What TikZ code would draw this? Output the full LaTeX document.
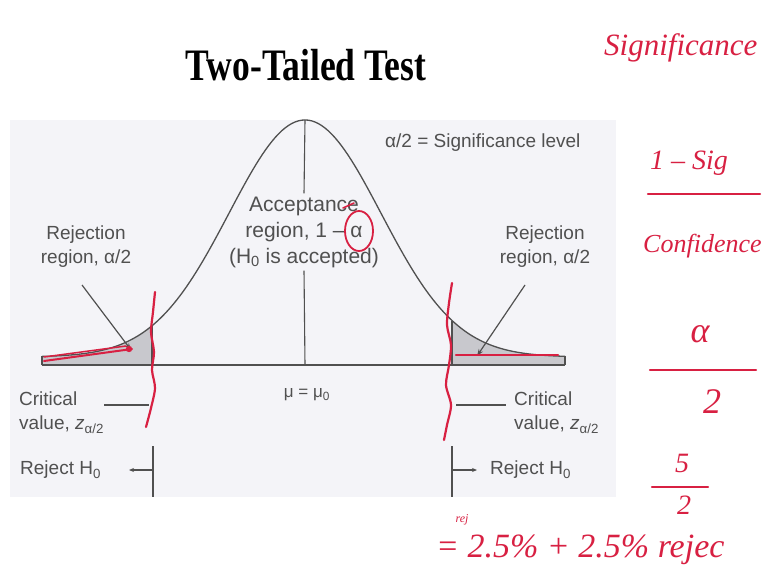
\documentclass[tikz,border=0pt]{standalone}
\usepackage{fontspec}
\setmainfont{Liberation Sans}
\newfontfamily\titlefont{Liberation Serif}
\usetikzlibrary{arrows.meta}
\definecolor{panel}{RGB}{244,244,248}
\definecolor{ink}{RGB}{80,80,80}
\definecolor{pen}{RGB}{216,32,66}
\definecolor{tailfill}{RGB}{200,200,205}
\begin{document}
\begin{tikzpicture}[x=1pt,y=-1pt,
  declare function={g(\x)=357-237*exp(-((\x-305)/76)^2/2);},
  lbl/.style={text=ink, font=\fontsize{19}{24}\selectfont, align=center, inner sep=0pt},
  lblL/.style={lbl, align=left},
  curve/.style={ink, line width=1.3},
  thin/.style={ink, line width=1.1},
  pointer/.style={ink, line width=1.2, -{Stealth[length=7pt,width=5pt]}},
  smallarrow/.style={ink, line width=1.1, -{Stealth[length=5pt,width=4pt]}},
  redpen/.style={pen, line width=2.2, line cap=round, line join=round},
  hand/.style={text=pen, font=\titlefont\itshape\fontsize{28}{30}\selectfont, inner sep=0pt}]
\useasboundingbox (0,0) rectangle (765,578);
\fill[white] (0,0) rectangle (765,578);
\fill[panel] (10,120) rectangle (616,497);

% title
\node[font=\titlefont\bfseries\fontsize{45}{45}\selectfont, xscale=0.79, anchor=base, inner sep=0pt] (title) at (306,80) {Two-Tailed Test};

% tail fills
\begin{scope}
  \clip (0,100) rectangle (152,400);
  \fill[tailfill] (42,365) -- plot[domain=42:305,samples=80] (\x,{g(\x)}) -- (305,365) -- cycle;
\end{scope}
\begin{scope}
  \clip (452,100) rectangle (620,400);
  \fill[tailfill] (305,365) -- plot[domain=305:565,samples=80] (\x,{g(\x)}) -- (565,365) -- cycle;
\end{scope}

% curve and axis
\draw[curve] plot[domain=42:565, samples=160] (\x,{g(\x)});
\coordinate (lend) at (42,365);
\coordinate (rend) at (565,365);
\draw[thin] (lend) -- (rend);
\draw[thin] (lend) -- (42,{g(42)});
\draw[thin] (rend) -- (565,{g(565)});
\draw[thin] (152,{g(152)}) -- (152,365);
\draw[thin] (452,{g(452)}) -- (452,365);

% labels
\node[lbl, anchor=west] (sig) at (385,143) {α/2 = Significance level};
\node[lbl, font=\fontsize{21}{26}\selectfont, inner sep=3pt] (acc) at (304,232) {Acceptance\\region, 1 – α\\(H\textsubscript{0} is accepted)};
\coordinate (peak) at (305,120);
\node[lbl, font=\fontsize{17}{20}\selectfont] (mu) at (307,395) {μ = μ\textsubscript{0}};
\coordinate (axc) at (305,365);
\draw[thin] (peak) -- (acc.north);
\draw[thin] (acc.south) -- (axc);

\node[lbl] (lrej) at (86,247) {Rejection\\region, α/2};
\node[lbl] (rrej) at (545,247) {Rejection\\region, α/2};
\coordinate (lrejs) at (82,285);
\coordinate (ltip) at (131,350);
\coordinate (rrejs) at (525,285);
\coordinate (rtip) at (477,356);
\draw[pointer] (lrejs) -- (ltip);
\draw[pointer] (rrejs) -- (rtip);

\node[lblL, anchor=north west] (lcrit) at (19,392) {Critical\\value, \textit{z}\textsubscript{α/2}};
\node[lblL, anchor=north west] (rcrit) at (514,392) {Critical\\value, \textit{z}\textsubscript{α/2}};
\coordinate (lc1) at (104,405);
\coordinate (lc2) at (149,405);
\coordinate (rc1) at (456,405);
\coordinate (rc2) at (506,405);
\draw[thin] (lc1) -- (lc2);
\draw[thin] (rc1) -- (rc2);

\node[lbl, anchor=west] (lrh) at (20,470) {Reject H\textsubscript{0}};
\node[lbl, anchor=west] (rrh) at (490,470) {Reject H\textsubscript{0}};
\coordinate (lt1) at (153,446);
\coordinate (lt2) at (153,497);
\coordinate (rt1) at (452,446);
\coordinate (rt2) at (452,497);
\draw[thin] (lt1) -- (lt2);
\draw[thin] (rt1) -- (rt2);
\draw[smallarrow] (153,470) -- (129,470);
\draw[smallarrow] (452,470) -- (477,470);

% red annotations on the diagram
\draw[redpen, line width=1.8] (359,231) ellipse (14 and 20);
\draw[redpen, line width=1.6] (343,208) -- (354,203);
\draw[redpen] plot[smooth] coordinates {(155,292) (153,312) (151,332) (154,352) (152,370) (155,388) (151,408) (146,427)};
\draw[redpen] plot[smooth] coordinates {(452,283) (449,303) (447,325) (451,345) (449,365) (446,385) (451,405) (447,425) (444,440)};
\draw[redpen, line width=2] (44,361) -- (132,349);
\draw[redpen, line width=1.5] (44,357) -- (126,346);
\fill[pen] (129,349) circle (3.2);
\draw[redpen, line width=2.4] (456,355) -- (558,355);

% handwritten notes
\node[hand, anchor=west, font=\titlefont\itshape\fontsize{31}{31}\selectfont] (n1) at (604,48) {Significance};
\node[hand, anchor=west] (n2) at (650,163) {1 – Sig};
\coordinate (l1a) at (648,194);
\coordinate (l1b) at (760,194);
\draw[redpen] (l1a) -- (l1b);
\node[hand, anchor=west, font=\titlefont\itshape\fontsize{26}{26}\selectfont] (n3) at (643,246) {Confidence};
\node[hand, font=\titlefont\itshape\fontsize{36}{36}\selectfont] (n4) at (700,334) {α};
\coordinate (l2a) at (650,370);
\coordinate (l2b) at (756,370);
\draw[redpen] (l2a) -- (l2b);
\node[hand, font=\titlefont\itshape\fontsize{36}{36}\selectfont] (n5) at (712,402) {2};
\node[hand] (n6) at (682,463) {5};
\coordinate (l3a) at (652,487);
\coordinate (l3b) at (708,487);
\draw[redpen] (l3a) -- (l3b);
\node[hand] (n7) at (684,505) {2};
\node[hand, font=\titlefont\itshape\fontsize{12}{12}\selectfont] (n8) at (462,520) {rej};
\node[hand, anchor=west, font=\titlefont\itshape\fontsize{34}{34}\selectfont] (n9) at (436,550) {= 2.5\% + 2.5\% rejec};
\end{tikzpicture}
\end{document}
